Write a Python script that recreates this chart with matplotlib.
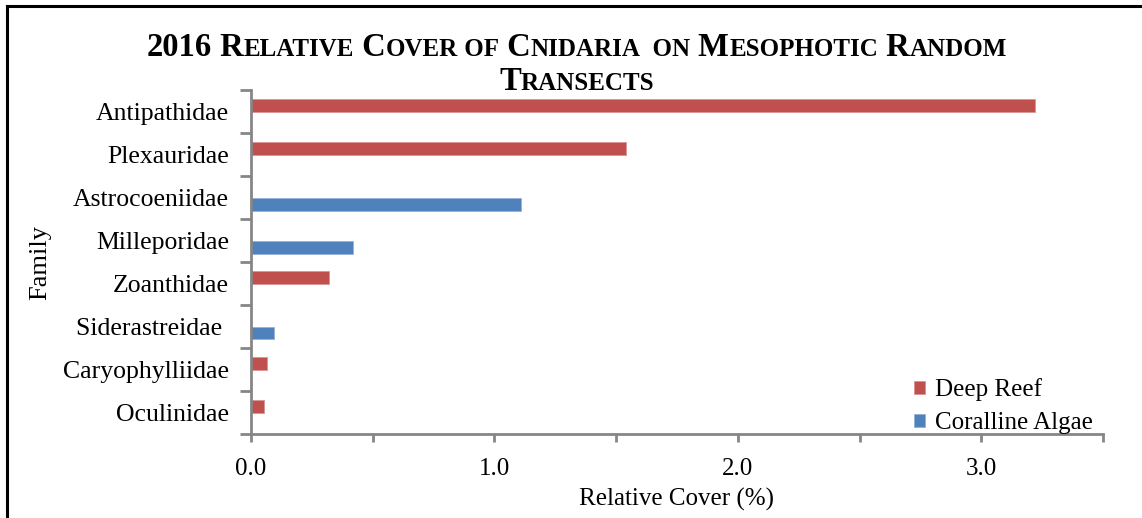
import numpy as np
import matplotlib
matplotlib.use('Agg')
import matplotlib.pyplot as plt
from matplotlib.lines import Line2D
from matplotlib.ticker import MultipleLocator, FuncFormatter

# data
families = ['Antipathidae', 'Plexauridae', 'Astrocoeniidae', 'Milleporidae',
            'Zoanthidae', 'Siderastreidae ', 'Caryophylliidae', 'Oculinidae']
deep_reef = [3.22, 1.54, 0.0, 0.0, 0.32, 0.0, 0.066, 0.053]
coralline_algae = [0.0, 0.0, 1.11, 0.42, 0.0, 0.095, 0.0, 0.0]
series_names = ['Deep Reef', 'Coralline Algae']
title_lines = [['2016', 'Relative', 'Cover', 'of', 'Cnidaria', ' on', 'Mesophotic', 'Random'],
               ['Transects']]

red = '#C0504D'
blue = '#4F81BD'
axis_gray = '#868686'

plt.rcParams['font.family'] = ['Liberation Serif', 'DejaVu Serif']

fig = plt.figure(figsize=(11.42, 5.18), dpi=100)
ax = fig.add_axes([0.2198, 0.162, 0.7460, 0.664])

y = np.arange(len(families))
h = 0.3
ax.barh(y - h / 2, deep_reef, height=h, color=red, edgecolor='#D99694', linewidth=0.6, label=series_names[0])
ax.barh(y + h / 2, coralline_algae, height=h, color=blue, edgecolor='#95B3D7', linewidth=0.6, label=series_names[1])

ax.set_ylim(len(families) - 0.5, -0.5)
ax.set_xlim(0, 3.5)

ax.set_yticks(y)
ax.set_yticklabels(families, fontsize=18.5)
ax.set_yticks(np.arange(len(families) + 1) - 0.5, minor=True)
ax.tick_params(axis='y', which='major', length=0, pad=16)
ax.tick_params(axis='y', which='minor', length=8, width=2, color=axis_gray, direction='out')

ax.xaxis.set_major_locator(MultipleLocator(0.5))
ax.xaxis.set_major_formatter(FuncFormatter(lambda v, p: f'{v:.1f}' if abs(v - round(v)) < 1e-9 and v < 3.4 else ''))
ax.tick_params(axis='x', which='major', length=6, width=2, color=axis_gray, labelsize=18, pad=11)

for side in ['top', 'right']:
    ax.spines[side].set_visible(False)
for side in ['left', 'bottom']:
    ax.spines[side].set_color(axis_gray)
    ax.spines[side].set_linewidth(2)

ax.set_xlabel('Relative Cover (%)', fontsize=18, labelpad=6)
ax.set_ylabel('Family', fontsize=19, labelpad=8)

leg = ax.legend(loc='lower right', bbox_to_anchor=(1.0, -0.03), frameon=False, fontsize=18,
                handlelength=0.45, handleheight=0.45, handletextpad=0.4, labelspacing=0.45,
                borderaxespad=0.0)

# title in small caps, built from pieces
fig.canvas.draw()
renderer = fig.canvas.get_renderer()
big, small = 23.5, 18
line_y = [0.892, 0.826]
for words, yy in zip(title_lines, line_y):
    pieces = []
    for i, w in enumerate(words):
        lead = ' ' if i > 0 else ''
        if w.isdigit():
            pieces.append((lead + w, big))
        elif w.strip().islower():
            pieces.append((lead + w.upper(), small))
        else:
            pieces.append((lead + w[0], big))
            pieces.append((w[1:].upper(), small))
    texts = []
    total = 0
    for s, fs in pieces:
        t = fig.text(0, yy, s, fontsize=fs, fontweight='bold', ha='left', va='baseline')
        w = t.get_window_extent(renderer).width
        texts.append((t, w))
        total += w
    x0 = (0.505 * fig.bbox.width - total / 2)
    for t, w in texts:
        t.set_x(x0 / fig.bbox.width)
        x0 += w

# chart border (left and top)
fig.add_artist(Line2D([0.0065, 0.0065], [0, 0.989], transform=fig.transFigure, color='black', lw=2.2))
fig.add_artist(Line2D([0.0065, 1.0], [0.989, 0.989], transform=fig.transFigure, color='black', lw=2.2))

fig.savefig('out.png', dpi=100)
